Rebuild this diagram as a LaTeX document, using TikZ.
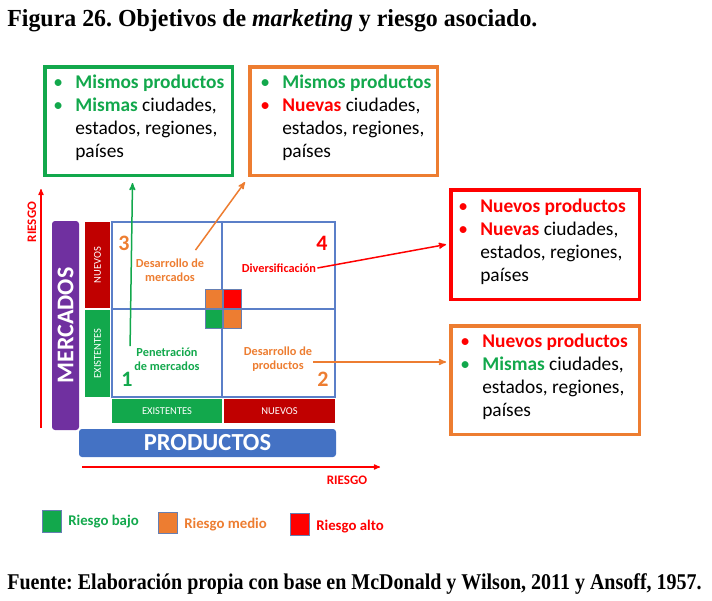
\documentclass[tikz,border=0pt]{standalone}
\usepackage{fontspec}
\setmainfont{Liberation Serif}
\newfontfamily\calibri{Carlito}
\usetikzlibrary{arrows}
\frenchspacing

\definecolor{vgreen}{HTML}{12A84C}
\definecolor{vorange}{HTML}{ED7D31}
\definecolor{vred}{HTML}{FF0000}
\definecolor{dred}{HTML}{C00000}
\definecolor{vpurple}{HTML}{7030A0}
\definecolor{vblue}{HTML}{4472C4}
\definecolor{gline}{HTML}{5B7FC8}

\newcommand{\bul}[1]{\makebox[22pt][l]{\color{#1}\textbullet}}
\newcommand{\ind}{\hspace*{22pt}}

\begin{document}
\begin{tikzpicture}[x=1pt,y=-1pt,>=stealth',semithick,
  box/.style={draw,line width=3.5pt,inner sep=0pt},
  txt/.style={anchor=base west,inner sep=0pt,font=\calibri\fontsize{19.4}{23}\selectfont},
  quad/.style={draw=gline,line width=1.5pt,inner sep=0pt},
  tag/.style={inner sep=0pt,text=white,font=\calibri\fontsize{10.5}{12}\selectfont},
  lbl/.style={inner sep=1pt,align=center,font=\calibri\bfseries\fontsize{12.3}{14.5}\selectfont},
  num/.style={inner sep=0pt,font=\calibri\bfseries\fontsize{22}{24}\selectfont},
  sq/.style={draw=gline!70!gray,thin,inner sep=0pt,minimum width=17.5pt,minimum height=19pt},
  key/.style={anchor=west,inner sep=0pt,font=\calibri\bfseries\fontsize{14.8}{17}\selectfont},
  axis/.style={inner sep=0pt,text=vred,font=\calibri\bfseries\fontsize{13}{15}\selectfont}]
  \useasboundingbox (0,0) rectangle (712,600);

  \node[anchor=base west,inner sep=0pt,font=\bfseries\fontsize{24.5}{28}\selectfont] (title) at (7,26)
    {\scalebox{0.975}[1]{Figura 26. Objetivos de \textit{marketing} y riesgo asociado.}};

  % objective boxes
  \node[box,draw=vgreen,minimum width=187.5pt,minimum height=108.5pt] (mm) at (138.5,121) {};
  \node[box,draw=vorange,minimum width=187.5pt,minimum height=108.5pt] (mn) at (343.5,121) {};
  \node[box,draw=vred,minimum width=188.5pt,minimum height=109.5pt] (nn) at (545,244.5) {};
  \node[box,draw=vorange,minimum width=188.5pt,minimum height=108.5pt] (nm) at (545,380) {};

  \node[txt] (t1) at (53,88) {\begin{tabular}[t]{@{}l@{}}
    \bul{vgreen}\textcolor{vgreen}{\bfseries Mismos productos}\\
    \bul{vgreen}\textcolor{vgreen}{\bfseries Mismas} ciudades,\\
    \ind estados, regiones,\\
    \ind países\end{tabular}};
  \node[txt] (t2) at (260,88) {\begin{tabular}[t]{@{}l@{}}
    \bul{vgreen}\textcolor{vgreen}{\bfseries Mismos productos}\\
    \bul{vred}\textcolor{vred}{\bfseries Nuevas} ciudades,\\
    \ind estados, regiones,\\
    \ind países\end{tabular}};
  \node[txt] (t3) at (458,212) {\begin{tabular}[t]{@{}l@{}}
    \bul{vred}\textcolor{vred}{\bfseries Nuevos productos}\\
    \bul{vred}\textcolor{vred}{\bfseries Nuevas} ciudades,\\
    \ind estados, regiones,\\
    \ind países\end{tabular}};
  \node[txt] (t4) at (460,347) {\begin{tabular}[t]{@{}l@{}}
    \bul{vred}\textcolor{vred}{\bfseries Nuevos productos}\\
    \bul{vgreen}\textcolor{vgreen}{\bfseries Mismas} ciudades,\\
    \ind estados, regiones,\\
    \ind países\end{tabular}};

  % Ansoff matrix
  \node[quad,minimum width=110pt,minimum height=87pt] (q3) at (167,265.5) {};
  \node[quad,minimum width=113pt,minimum height=87pt] (q4) at (278.5,265.5) {};
  \node[quad,minimum width=110pt,minimum height=88pt] (q1) at (167,353) {};
  \node[quad,minimum width=113pt,minimum height=88pt] (q2) at (278.5,353) {};

  \node[tag,fill=dred,rotate=90,minimum width=86pt,minimum height=25pt] (rn) at (97.5,265) {NUEVOS};
  \node[tag,fill=vgreen,rotate=90,minimum width=87pt,minimum height=25pt] (re) at (97.5,353.5) {EXISTENTES};
  \node[tag,fill=vgreen,minimum width=110pt,minimum height=24pt] (ce) at (167,411) {EXISTENTES};
  \node[tag,fill=dred,minimum width=111pt,minimum height=24pt] (cn) at (279.5,411) {NUEVOS};

  \node[inner sep=0pt,fill=vpurple,rounded corners=3pt,rotate=90,minimum width=209pt,minimum height=27pt,
    text=white,font=\calibri\bfseries\fontsize{24}{26}\selectfont] (mkt) at (65.5,325.5) {MERCADOS};
  \node[inner sep=0pt,fill=vblue,rounded corners=3pt,minimum width=257pt,minimum height=28pt,
    text=white,font=\calibri\bfseries\fontsize{24.5}{26}\selectfont] (prd) at (207.5,443) {PRODUCTOS};

  \node[sq,fill=vorange] (s1) at (213.5,299) {};
  \node[sq,fill=vred] (s2) at (232,299) {};
  \node[sq,fill=vgreen] (s3) at (213.5,319) {};
  \node[sq,fill=vorange] (s4) at (232,319) {};

  \node[num,text=vorange] (n3) at (124,243) {3};
  \node[num,text=vred] (n4) at (322,243) {4};
  \node[num,text=vgreen] (n1) at (127,379) {1};
  \node[num,text=vorange] (n2) at (323,379) {2};

  \node[lbl,text=vorange] (dm) at (170,270) {Desarrollo de\\mercados};
  \node[lbl,text=vred] (div) at (279,268) {Diversificación};
  \node[lbl,text=vgreen] (pen) at (167,359) {Penetración\\de mercados};
  \node[lbl,text=vorange] (dp) at (278,359) {Desarrollo de\\productos};

  \draw[->,vgreen,line width=1.5pt] ([xshift=-3pt]pen.north west) -- ([xshift=-6pt,yshift=-6pt]mm.south);
  \draw[->,vorange,line width=1.5pt] ([xshift=-10pt,yshift=7pt]dm.north east) -- ([xshift=-3pt,yshift=-5pt]mn.south west);
  \draw[->,vred,line width=1.5pt] (div.east) -- ([xshift=-3pt]nn.west);
  \draw[->,vorange,line width=1.5pt] ([yshift=-3pt]dp.east) -- ([yshift=-3pt,xshift=-3pt]dp.east -| nm.west);

  % risk axes
  \coordinate (v0) at (41,428);
  \coordinate (v1) at (41,189);
  \coordinate (h0) at (82,467);
  \coordinate (h1) at (380,467);
  \draw[->,vred,line width=1.2pt] (v0) -- (v1);
  \draw[->,vred,line width=1.2pt] (h0) -- (h1);
  \node[axis,rotate=90] (rv) at (32,222) {RIESGO};
  \node[axis] (rh) at (347,480) {RIESGO};

  % legend
  \node[sq,fill=vgreen,minimum width=19pt,minimum height=22pt] (k1) at (51.5,521) {};
  \node[key,text=vgreen] (k1t) at (68,522) {Riesgo bajo};
  \node[sq,fill=vorange,minimum width=19pt,minimum height=21pt] (k2) at (167.5,522.5) {};
  \node[key,text=vorange] (k2t) at (184,525) {Riesgo medio};
  \node[sq,fill=vred,minimum width=19pt,minimum height=22pt] (k3) at (299.5,524) {};
  \node[key,text=vred] (k3t) at (316,527) {Riesgo alto};

  \node[anchor=base west,inner sep=0pt,font=\bfseries\fontsize{22.5}{26}\selectfont] (src) at (7,589)
    {\scalebox{0.889}[1]{Fuente: Elaboración propia con base en McDonald y Wilson, 2011 y Ansoff, 1957.}};
\end{tikzpicture}
\end{document}
